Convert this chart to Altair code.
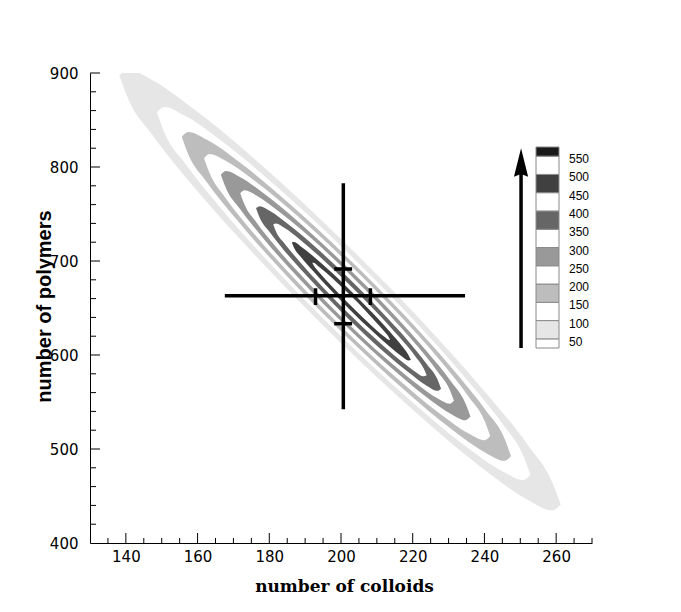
import altair as alt
import pandas as pd

# ---------------- axes ----------------
x_domain = [130, 270]
y_domain = [400, 900]
x_labels = [140, 160, 180, 200, 220, 240, 260]
y_labels = [400, 500, 600, 700, 800, 900]
x_major_ticks = [140, 160, 180, 200, 220, 240, 260]
x_minor_ticks = [135, 145, 150, 155, 165, 170, 175, 185, 190, 195, 205, 210,
                 215, 225, 230, 235, 245, 250, 255, 265, 270]
y_major_ticks = [500, 600, 700, 800, 900]
y_minor_ticks = [420, 440, 460, 480, 520, 540, 560, 580, 620, 640, 660, 680,
                 720, 740, 760, 780, 820, 840, 860, 880]

# ---------------- contour outlines ----------------
x_50 = [138.2, 140.6, 147.4, 159.7, 178.2, 199.7, 221.3, 239.7, 252.1, 258.8, 261.3]
lo_50 = [897.4, 872.8, 834.0, 775.5, 697.3, 613.9, 537.5, 478.8, 446.0, 434.6, 440.9]
hi_50 = [897.4, 903.7, 892.3, 859.5, 800.8, 724.4, 641.0, 562.8, 504.3, 465.5, 440.9]

x_100 = [148.7, 150.7, 156.5, 166.9, 182.5, 200.7, 218.9, 234.5, 245.0, 250.7, 252.8]
lo_100 = [858.1, 837.0, 804.0, 754.3, 688.1, 617.6, 553.2, 503.8, 476.4, 467.0, 472.7]
hi_100 = [858.1, 863.8, 854.4, 827.0, 777.6, 713.2, 642.7, 576.4, 526.8, 493.8, 472.7]

x_150 = [155.6, 157.4, 162.5, 171.7, 185.4, 201.5, 217.6, 231.3, 240.5, 245.6, 247.4]
lo_150 = [832.2, 813.5, 784.3, 740.4, 682.0, 619.8, 563.1, 519.7, 495.6, 487.4, 492.6]
hi_150 = [832.2, 837.3, 829.2, 805.1, 761.7, 704.9, 642.8, 584.3, 540.5, 511.3, 492.6]

x_200 = [161.8, 163.4, 167.7, 175.7, 187.7, 201.7, 215.7, 227.7, 235.6, 240.0, 241.6]
lo_200 = [809.4, 793.0, 767.5, 729.3, 678.4, 624.3, 575.0, 537.2, 516.4, 509.4, 513.9]
hi_200 = [809.4, 813.9, 806.9, 786.0, 748.3, 699.0, 644.9, 594.0, 555.7, 530.3, 513.9]

x_250 = [166.5, 167.9, 171.8, 178.7, 189.1, 201.3, 213.5, 223.9, 230.9, 234.7, 236.1]
lo_250 = [791.8, 777.7, 755.6, 722.4, 678.1, 631.0, 588.0, 555.1, 536.8, 530.6, 534.5]
hi_250 = [791.8, 795.7, 789.4, 771.2, 738.3, 695.2, 648.2, 603.9, 570.7, 548.6, 534.5]

x_300 = [171.9, 173.1, 176.4, 182.3, 191.3, 201.7, 212.1, 221.1, 227.0, 230.3, 231.5]
lo_300 = [772.1, 760.1, 741.3, 713.0, 675.1, 634.7, 597.8, 569.4, 553.6, 548.1, 551.2]
hi_300 = [772.1, 775.2, 769.7, 753.8, 725.5, 688.5, 648.2, 610.3, 581.9, 563.2, 551.2]

x_350 = [176.3, 177.3, 180.2, 185.3, 193.1, 202.1, 211.1, 218.9, 224.0, 226.9, 227.9]
lo_350 = [756.1, 746.2, 730.3, 706.0, 673.4, 638.4, 606.2, 581.3, 567.1, 561.9, 564.1]
hi_350 = [756.1, 758.3, 753.1, 739.0, 714.0, 681.8, 646.8, 614.2, 590.0, 574.1, 564.1]

x_400 = [181.1, 181.9, 184.3, 188.6, 195.0, 202.5, 210.0, 216.4, 220.7, 223.0, 223.9]
lo_400 = [738.7, 731.1, 718.4, 698.7, 671.9, 642.9, 615.9, 594.6, 582.3, 577.3, 578.5]
hi_400 = [738.7, 739.9, 735.0, 722.6, 701.4, 674.3, 645.3, 618.5, 598.8, 586.1, 578.5]

x_450 = [186.3, 186.9, 188.7, 192.1, 197.1, 202.9, 208.7, 213.7, 217.0, 218.8, 219.5]
lo_450 = [719.7, 714.2, 704.7, 689.8, 669.1, 646.6, 625.4, 608.5, 598.4, 594.2, 594.6]
hi_450 = [719.7, 720.1, 715.8, 705.7, 688.8, 667.6, 645.1, 624.5, 609.5, 600.0, 594.6]

x_500 = [192.0, 192.4, 193.6, 195.8, 199.1, 202.9, 206.7, 209.9, 212.1, 213.3, 213.7]
lo_500 = [698.2, 695.1, 689.3, 679.9, 666.6, 651.9, 637.8, 626.4, 619.4, 616.2, 616.0]
hi_500 = [698.2, 698.1, 694.8, 687.8, 676.4, 662.4, 647.7, 634.4, 624.9, 619.1, 616.0]

contour_levels = [50, 100, 150, 200, 250, 300, 350, 400, 450, 500]
contour_colors = ["#e6e6e6", "#ffffff", "#bdbdbd", "#ffffff", "#999999",
                  "#ffffff", "#666666", "#ffffff", "#404040", "#ffffff"]
contour_x = [x_50, x_100, x_150, x_200, x_250, x_300, x_350, x_400, x_450, x_500]
contour_lo = [lo_50, lo_100, lo_150, lo_200, lo_250, lo_300, lo_350, lo_400, lo_450, lo_500]
contour_hi = [hi_50, hi_100, hi_150, hi_200, hi_250, hi_300, hi_350, hi_400, hi_450, hi_500]

# ---------------- error cross ----------------
seg_x1 = [167.6, 200.65, 192.9, 208.2, 198.1, 198.1]
seg_x2 = [234.6, 200.65, 192.9, 208.2, 203.1, 203.1]
seg_y1 = [663.1, 542.2, 653.2, 653.2, 691.5, 633.3]
seg_y2 = [663.1, 782.7, 671.0, 671.0, 691.5, 633.3]

# ---------------- legend ----------------
legend_levels = [50, 100, 150, 200, 250, 300, 350, 400, 450, 500, 550]
band_lo = [25, 50, 100, 150, 200, 250, 300, 350, 400, 450, 500, 550]
band_hi = [50, 100, 150, 200, 250, 300, 350, 400, 450, 500, 550, 575]
band_col = ["#ffffff", "#e6e6e6", "#ffffff", "#bdbdbd", "#ffffff", "#999999",
            "#ffffff", "#666666", "#ffffff", "#404040", "#ffffff", "#1a1a1a"]
arrow_x = [-0.65]
arrow_tail = [25]
arrow_shaft_end = [540]
arrow_head_mid = [532.5]


def xs():
    return alt.Scale(domain=x_domain, nice=False, zero=False)


def ys():
    return alt.Scale(domain=y_domain, nice=False, zero=False)


x_axis = alt.Axis(values=x_labels, ticks=False, grid=False,
                  domain=True, domainColor="black", domainWidth=1,
                  labelFont="DejaVu Sans", labelFontSize=15, labelColor="black",
                  labelPadding=6,
                  title="number of colloids", titleFont="DejaVu Serif",
                  titleFontSize=17, titleFontWeight="bold", titleColor="black",
                  titleX=254, titleY=48, titleAlign="center",
                  titleBaseline="alphabetic")
y_axis = alt.Axis(values=y_labels, ticks=False, grid=False,
                  domain=True, domainColor="black", domainWidth=1,
                  labelFont="DejaVu Sans", labelFontSize=15, labelColor="black",
                  labelPadding=12,
                  title="number of polymers", titleFont="Liberation Sans",
                  titleFontSize=20, titleFontWeight="bold", titleColor="black",
                  titleAngle=270, titleX=-46, titleY=233, titleAlign="center",
                  titleBaseline="middle")

layers = []
for i, lev in enumerate(contour_levels):
    df = pd.DataFrame({"x": contour_x[i], "lo": contour_lo[i], "hi": contour_hi[i]})
    first = i == 0
    if first:
        xenc = alt.X("x:Q", scale=xs(), axis=x_axis)
        yenc = alt.Y("lo:Q", scale=ys(), axis=y_axis)
    else:
        xenc = alt.X("x:Q", scale=xs(), axis=None)
        yenc = alt.Y("lo:Q", scale=ys(), axis=None)
    layers.append(
        alt.Chart(df).mark_area(color=contour_colors[i], orient="vertical",
                                interpolate="monotone", clip=True)
        .encode(x=xenc, y=yenc, y2="hi:Q")
    )

cross_df = pd.DataFrame({"x1": seg_x1, "x2": seg_x2, "y1": seg_y1, "y2": seg_y2})
layers.append(
    alt.Chart(cross_df).mark_rule(color="black", strokeWidth=3.5).encode(
        x=alt.X("x1:Q", scale=xs(), axis=None), x2="x2:Q",
        y=alt.Y("y1:Q", scale=ys(), axis=None), y2="y2:Q",
    )
)


def xticks(vals, size):
    return alt.Chart(pd.DataFrame({"v": vals, "base": [400] * len(vals)})).mark_tick(
        orient="vertical", size=size, thickness=1, color="black",
        yOffset=-size / 2, opacity=1
    ).encode(x=alt.X("v:Q", scale=xs(), axis=None),
             y=alt.Y("base:Q", scale=ys(), axis=None))


def yticks(vals, size):
    return alt.Chart(pd.DataFrame({"v": vals, "base": [130] * len(vals)})).mark_tick(
        orient="horizontal", size=size, thickness=1, color="black",
        xOffset=size / 2, opacity=1
    ).encode(y=alt.Y("v:Q", scale=ys(), axis=None),
             x=alt.X("base:Q", scale=xs(), axis=None))


layers += [xticks(x_major_ticks, 10), xticks(x_minor_ticks, 5),
           yticks(y_major_ticks, 10), yticks(y_minor_ticks, 6)]


def lx():
    return alt.Scale(domain=[0, 1], range=[446, 469], nice=False, zero=False)


def ly():
    return alt.Scale(domain=[25, 575], range=[275, 74], nice=False, zero=False)


band_df = pd.DataFrame({"lo": band_lo, "hi": band_hi, "col": band_col,
                        "bx0": [0] * len(band_lo), "bx1": [1] * len(band_lo)})
layers.append(
    alt.Chart(band_df).mark_rect(stroke="#8a8a8a", strokeWidth=1).encode(
        x=alt.X("bx0:Q", scale=lx(), axis=None), x2="bx1:Q",
        y=alt.Y("lo:Q", scale=ly(), axis=None), y2="hi:Q",
        color=alt.Color("col:N", scale=None),
    )
)
lab_df = pd.DataFrame({"lev": legend_levels, "bx1": [1] * len(legend_levels),
                       "txt": [str(v) for v in legend_levels]})
layers.append(
    alt.Chart(lab_df).mark_text(
        align="left", baseline="middle", dx=10, dy=3,
        font="Liberation Sans", fontSize=12, color="#000000"
    ).encode(
        x=alt.X("bx1:Q", scale=lx(), axis=None),
        y=alt.Y("lev:Q", scale=ly(), axis=None),
        text="txt:N",
    )
)
arrow_df = pd.DataFrame({"ax": arrow_x, "a0": arrow_tail, "a1": arrow_shaft_end,
                         "am": arrow_head_mid})
layers.append(
    alt.Chart(arrow_df).mark_rule(color="black", strokeWidth=3.5).encode(
        x=alt.X("ax:Q", scale=lx(), axis=None),
        y=alt.Y("a0:Q", scale=ly(), axis=None), y2="a1:Q",
    )
)
layers.append(
    alt.Chart(arrow_df).mark_point(
        shape="M0,-1L0.5,1L0,0.8L-0.5,1Z", filled=True, color="black",
        size=806, opacity=1
    ).encode(
        x=alt.X("ax:Q", scale=lx(), axis=None),
        y=alt.Y("am:Q", scale=ly(), axis=None),
    )
)

chart = (
    alt.layer(*layers)
    .resolve_scale(x="independent", y="independent")
    .properties(width=502, height=470,
                autosize=alt.AutoSizeParams(type="none"),
                padding={"left": 82, "top": 65, "right": 40, "bottom": 60},
                background="white")
    .configure_view(stroke=None)
)

chart.save("out.html", embed_options={"renderer": "svg", "actions": False})
